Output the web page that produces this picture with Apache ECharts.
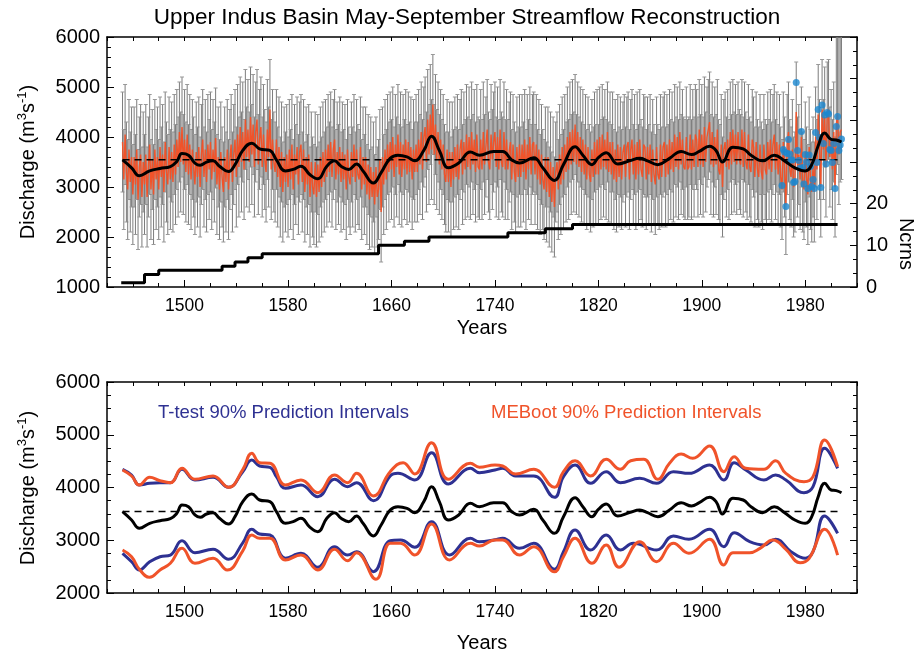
<!DOCTYPE html>
<html><head><meta charset="utf-8">
<script src="https://cdn.jsdelivr.net/npm/echarts@6/dist/echarts.min.js"></script>
<style>html,body{margin:0;padding:0;background:#fff}#c{width:917px;height:655px}</style>
</head><body><div id="c"></div>
<script>
// ---------------- DATA ----------------
const titleText = 'Upper Indus Basin May-September Streamflow Reconstruction';
const yearTickLabels = [1500, 1580, 1660, 1740, 1820, 1900, 1980];
const ncrnsTickLabels = [0, 10, 20];
const X_MIN = 1440, X_MAX = 2020;

// annual reconstruction, first year 1452
const firstYear = 1452;
const annualFlow = [
  3900,3150,4050,3300,2950,3750,3100,3600,
  2850,3600,3050,3750,2750,3400,3650,2800,3500,3050,
  3650,2800,3400,3850,2950,3550,2850,3750,3150,3600,
  2950,3800,3200,3650,2900,3900,3300,3050,3800,3150,
  3700,3100,3850,3250,3950,3400,4100,3500,4200,3450,
  3950,3300,4050,3250,3850,3150,3750,3400,3050,3700,
  3200,3800,3000,3650,3950,3200,3750,3100,3850,3350,
  3900,3150,3750,3300,3980,3050,3600,2950,3700,3200,
  2900,3600,3100,3750,2950,3550,3850,3100,3650,3950,
  3200,4050,3400,4200,3500,4100,3350,4350,3600,4150,
  3500,4400,3650,4250,3400,4100,4350,3450,3950,4200,
  3400,4050,3550,3300,4150,3600,4550,3350,3950,3500,
  3300,3950,3200,3800,3000,3700,2900,3600,3100,3650,
  3000,3750,3150,3850,2950,3650,3250,3800,3050,3700,
  3850,3100,3750,2900,3600,3050,3650,2800,3500,3000,
  2850,3500,2800,3450,2900,3600,3000,3700,3100,3750,
  3200,3850,3300,3900,3200,3750,3950,3150,3700,3250,
  3800,3100,3700,3150,3650,2950,3750,3200,3050,3700,
  3200,3850,3100,3750,3250,3150,3800,2950,3600,3050,
  3600,2850,3450,2750,3400,2800,3300,2650,3400,2800,
  2950,3550,2500,3600,3050,3750,3150,3850,3300,3900,
  3350,4000,3200,3850,3400,4050,3250,3900,3200,3850,
  3350,3950,3250,3900,3300,3800,3150,3750,3300,3850,
  3300,3950,3450,4100,3350,4000,4200,3500,4350,3650,
  4450,3750,4650,3650,4250,3550,4100,3450,3950,3350,
  3850,3250,3100,3750,3100,3700,3000,3700,3150,3800,
  3200,3850,3150,3750,3950,3250,3900,3350,4050,3400,
  4000,3350,4100,3450,3950,3300,4050,3400,3350,3950,
  3350,4100,3450,3800,4150,3500,3350,4050,3550,3900,
  4100,3400,4000,3350,4150,3500,3400,4100,3350,3950,
  3350,3700,3900,3150,3850,3300,3100,3800,3200,3850,
  3200,3850,3300,3950,3150,3850,3350,4000,3250,3850,
  3900,3250,3850,3150,3750,3050,3650,3150,2950,3600,
  2900,3600,2800,3500,2700,3400,2600,3300,3500,2950,
  3650,3050,3800,3150,3850,3300,4000,3350,4100,3450,
  4150,3500,4250,3450,4100,3400,4000,3300,3950,3250,
  3850,3150,3800,3250,3100,3750,3200,3900,3250,3950,
  3250,4000,3350,4050,3400,3950,3350,4100,3300,3900,
  3250,3900,3150,3750,3100,3850,3200,3800,3150,3700,
  3850,3200,3800,3900,3150,3750,3950,3250,3850,3150,
  3900,3250,3950,3350,3200,3850,3800,3150,3800,3250,
  3850,3100,3750,3250,3050,3800,3250,3150,3850,3200,
  3800,3900,3200,3850,3250,3950,3350,3900,3300,4050,
  3400,4000,3350,4100,3450,3950,3400,3350,4000,3350,
  3400,4050,3350,3950,3400,4050,3950,3400,4150,3450,
  4050,3400,4200,3500,4000,4150,4300,3450,4100,3400,
  4000,3450,4150,3350,3250,3850,3000,3750,3900,3400,
  3950,3350,4100,3450,4150,3500,4050,3450,4100,3550,
  3450,4150,3400,4100,3500,3350,4050,3400,3300,3950,
  3800,3200,3900,3350,3200,3850,3300,3150,3850,3350,
  3250,3900,3350,3950,3300,3850,4050,3350,3900,3250,
  3850,3200,2950,3900,3400,2650,3850,4100,3350,3200,
  3750,3000,3100,4500,3400,3650,3150,4000,3100,2950,
  3700,3200,2850,3800,3150,2900,3400,2900,4000,3350,
  4450,3750,3000,4550,3750,4400,3400,4500,4550,3600,
  3950,3350,4100,3000,4250,4450,3650,4100,4150
];
// prediction interval half-width of the annual error bars
const errHalfWidth = 1000;
// final years whose upper interval runs off the top of the axis
const openUpperYears = [2004, 2005, 2006, 2007, 2008];
const openUpperValue = 6800;

// observed (gauged) flow, 1962-2008
const observedFirstYear = 1962;
const observedFlow = [
  3030,3750,3700,2610,3670,3950,3660,3540,3540,3090,
  3110,5090,3730,3530,3380,4110,3390,3060,3650,3500,
  2970,3640,3410,3010,3150,2970,4090,3490,4550,3990,
  2990,4640,3870,4440,3460,4490,4460,3750,3730,3490,
  3870,2970,4210,4410,3730,3840,3960
];

// smoothed reconstruction
const smoothYears = [1452,1459,1465,1473,1481,1489,1494,1498,1503,1508,1512,1517,1522,1527,1534,1539,1545,1552,1558,1566,1571,1578,1584,1590,1597,1603,1610,1616,1621,1627,1633,1638,1646,1652,1659,1665,1672,1678,1685,1691,1697,1704,1712,1721,1728,1739,1746,1753,1759,1770,1777,1786,1793,1802,1808,1815,1820,1826,1835,1844,1852,1858,1866,1875,1884,1892,1898,1906,1911,1916,1924,1932,1938,1947,1956,1964,1972,1980,1985,1990,1995,2000,2004,2008];
const smoothFlow = [3541,3384,3226,3321,3371,3409,3510,3668,3636,3479,3435,3498,3523,3416,3308,3447,3731,3877,3763,3731,3541,3321,3352,3416,3245,3163,3416,3523,3416,3352,3460,3321,3081,3289,3573,3636,3604,3523,3731,4015,3731,3384,3479,3700,3636,3712,3712,3541,3479,3586,3384,3131,3447,3807,3636,3447,3586,3687,3460,3523,3573,3523,3447,3573,3712,3649,3712,3814,3731,3498,3795,3763,3636,3523,3636,3523,3384,3321,3447,3826,4080,3953,3940,3900];

const meanFlow = 3545;
const meanSpan = [1452, 2008];

// number of chronologies
const ncrnsYears = [1451,1469,1480,1529,1539,1549,1560,1650,1670,1689,1750,1779,1800,2005];
const ncrnsCount = [1,3,4,5,6,7,8,10,11,12,13,14,15,15];

// smoothed 90% prediction intervals
const ttestUpperYears = [1452,1459,1465,1473,1481,1489,1498,1508,1522,1534,1545,1552,1558,1566,1571,1578,1590,1603,1616,1626,1633,1646,1659,1665,1678,1691,1704,1721,1728,1740,1746,1756,1770,1786,1793,1802,1814,1826,1837,1852,1865,1878,1890,1906,1917,1925,1934,1948,1957,1965,1979,1986,1995,2005];
const ttestUpperFlow  = [4345,4237,4047,4079,4091,4091,4345,4142,4193,4003,4300,4521,4408,4383,4205,3985,4047,3826,4155,4015,4091,3750,4218,4268,4142,4660,4066,4364,4281,4332,4364,4218,4218,3814,4205,4427,4079,4300,4091,4174,4079,4300,4268,4427,4142,4471,4332,4142,4237,4142,3901,4015,4743,4364];
const mebootUpperYears = [1452,1459,1465,1473,1481,1489,1498,1508,1522,1534,1545,1552,1558,1566,1578,1590,1603,1616,1626,1633,1646,1659,1669,1678,1691,1704,1721,1728,1740,1746,1756,1770,1786,1793,1802,1814,1826,1837,1845,1855,1866,1875,1884,1893,1906,1917,1925,1934,1948,1957,1965,1979,1986,1995,2005];
const mebootUpperFlow  = [4332,4218,4047,4193,4129,4091,4364,4155,4218,4003,4340,4648,4471,4459,4047,4142,3901,4237,4091,4268,3839,4300,4471,4256,4850,4155,4459,4383,4427,4408,4256,4345,4003,4300,4508,4218,4534,4345,4508,4534,4155,4459,4635,4553,4787,4300,4584,4364,4345,4508,4268,4110,4205,4900,4395];
const ttestLowerYears = [1452,1459,1465,1473,1481,1489,1498,1508,1522,1534,1545,1552,1558,1566,1578,1590,1603,1616,1626,1633,1646,1659,1667,1678,1691,1705,1721,1728,1740,1746,1759,1770,1786,1793,1802,1814,1826,1837,1847,1865,1878,1890,1906,1917,1925,1937,1948,1957,1969,1980,1986,1995,2005];
const ttestLowerFlow  = [2752,2592,2436,2592,2688,2720,2991,2764,2828,2639,2950,3207,3119,3100,2658,2752,2487,2878,2720,2783,2404,2991,3005,2866,3352,2720,3037,2973,3010,3037,2847,2942,2449,2783,3194,2815,3100,2815,2942,2815,3081,3018,3207,2878,3144,2973,2910,3018,2783,2658,2783,3460,3131];
const mebootLowerYears = [1452,1459,1465,1473,1481,1489,1498,1508,1522,1533,1545,1552,1558,1566,1578,1590,1603,1616,1626,1633,1648,1659,1667,1678,1691,1705,1721,1728,1740,1746,1759,1770,1786,1793,1802,1815,1826,1836,1852,1865,1878,1890,1906,1917,1924,1937,1945,1955,1965,1976,1983,1995,2005];
const mebootLowerFlow  = [2815,2688,2449,2297,2436,2563,2847,2563,2658,2436,2800,3100,3037,3037,2626,2720,2436,2828,2612,2764,2260,2942,2942,2720,3308,2626,2942,2891,3005,3005,2720,2878,2404,2688,3037,2563,2910,2487,2973,2594,2942,2752,3018,2531,2764,2764,2847,3005,2828,2574,2658,3207,2720];

const legendTtest = 'T-test 90% Prediction Intervals';
const legendMeboot = 'MEBoot 90% Prediction Intervals';

// ---------------- BUILD ----------------
const FONT = '"Liberation Sans", Arial, Helvetica, sans-serif';
const BLACK = '#000';
const ORANGE = '#f0532a';
const BLUE = '#2e3192';
const DOT = '#1a87cf';
const GRAY = '#7c7c7c';

const pairs = (xs, ys) => xs.map((x, i) => [x, ys[i]]);
const annualData = annualFlow.map((v, i) => [firstYear + i, v]);
const errData = annualFlow.map((v, i) => {
  const yr = firstYear + i;
  const hi = openUpperYears.includes(yr) ? openUpperValue : v + errHalfWidth;
  return [yr, v - errHalfWidth, hi];
});
const obsData = observedFlow.map((v, i) => [observedFirstYear + i, v]);
const smoothData = pairs(smoothYears, smoothFlow);
const meanData = meanSpan.map(y => [y, meanFlow]);

function renderErr(params, api) {
  const x = api.value(0), lo = api.value(1), hi = api.value(2);
  const top = Math.min(hi, 6000);
  const a = api.coord([x, lo]), b = api.coord([x, top]);
  const st = {stroke: GRAY, lineWidth: 1};
  const ch = [
    {type: 'line', shape: {x1: a[0], y1: a[1], x2: b[0], y2: b[1]}, style: st},
    {type: 'line', shape: {x1: a[0] - 2, y1: a[1], x2: a[0] + 2, y2: a[1]}, style: {stroke: '#999', lineWidth: 1}}
  ];
  if (hi <= 6000) ch.push({type: 'line', shape: {x1: b[0] - 2, y1: b[1], x2: b[0] + 2, y2: b[1]}, style: {stroke: '#999', lineWidth: 1}});
  return {type: 'group', children: ch};
}

const plainNum = v => String(v);
const axisLineStyle = {color: BLACK, width: 1.5};
function xAxesFor(gi) {
  const base = {gridIndex: gi, type: 'value', min: X_MIN, max: X_MAX, splitLine: {show: false}};
  return [
    Object.assign({}, base, {position: 'bottom', offset: 0,
      axisLine: {show: true, onZero: false, lineStyle: axisLineStyle},
      axisTick: {show: true, inside: true, length: 7, customValues: yearTickLabels, lineStyle: {color: BLACK, width: 1}},
      axisLabel: {show: true, customValues: yearTickLabels, formatter: plainNum, fontSize: 17.5, color: BLACK, fontFamily: FONT, margin: 10}}),
    Object.assign({}, base, {position: 'bottom', offset: 0, interval: 20,
      axisLine: {show: false, onZero: false},
      axisTick: {show: true, inside: true, length: 4, lineStyle: {color: BLACK, width: 1}},
      axisLabel: {show: false}}),
    Object.assign({}, base, {position: 'top', offset: 0, interval: 20,
      axisLine: {show: true, onZero: false, lineStyle: axisLineStyle},
      axisTick: {show: true, inside: true, length: 4, lineStyle: {color: BLACK, width: 1}},
      axisLabel: {show: false}})
  ];
}
function yAxis(gi, pos, min, max, interval, minorSplit, labels) {
  return {gridIndex: gi, type: 'value', position: pos, min, max, interval, offset: 0,
    splitLine: {show: false}, minorSplitLine: {show: false},
    axisLine: {show: true, onZero: false, lineStyle: axisLineStyle},
    axisTick: {show: true, inside: true, length: 7, lineStyle: {color: BLACK, width: 1}},
    minorTick: {show: true, splitNumber: minorSplit, length: 4, lineStyle: {color: BLACK, width: 1}},
    axisLabel: labels === false ? {show: false} : Object.assign({show: true, formatter: plainNum, fontSize: 20, color: BLACK, fontFamily: FONT, margin: pos === 'left' ? 7 : 9}, labels ? {customValues: labels} : {})
  };
}

const lineBase = {type: 'line', showSymbol: false, symbol: 'none', silent: true, animation: false};
const SMOOTH = 0.45;

const option = {
  animation: false,
  backgroundColor: '#fff',
  grid: [
    {left: 107, top: 37, width: 750, height: 250},
    {left: 107, top: 382, width: 750, height: 211}
  ],
  xAxis: xAxesFor(0).concat(xAxesFor(1)),
  yAxis: [
    yAxis(0, 'left', 1000, 6000, 1000, 5, null),
    yAxis(0, 'right', 0, 60, 10, 3, ncrnsTickLabels),
    yAxis(1, 'left', 2000, 6000, 1000, 4, null),
    yAxis(1, 'right', 2000, 6000, 1000, 4, false)
  ],
  series: [
    {type: 'custom', xAxisIndex: 0, yAxisIndex: 0, data: errData, renderItem: renderErr,
      encode: {x: 0, y: [1, 2]}, silent: true, z: 1, clip: true},
    Object.assign({}, lineBase, {xAxisIndex: 0, yAxisIndex: 0, data: annualData, z: 2,
      lineStyle: {color: ORANGE, width: 1.4}}),
    Object.assign({}, lineBase, {xAxisIndex: 0, yAxisIndex: 0, data: meanData, z: 3,
      lineStyle: {color: BLACK, width: 1.5, type: [7, 5]}}),
    {type: 'scatter', xAxisIndex: 0, yAxisIndex: 0, data: obsData, symbol: 'circle', symbolSize: 7,
      itemStyle: {color: DOT}, silent: true, z: 4},
    Object.assign({}, lineBase, {xAxisIndex: 0, yAxisIndex: 0, data: smoothData, z: 5, smooth: SMOOTH,
      lineStyle: {color: BLACK, width: 3}}),
    Object.assign({}, lineBase, {xAxisIndex: 0, yAxisIndex: 1, data: pairs(ncrnsYears, ncrnsCount), z: 5, step: 'end',
      lineStyle: {color: BLACK, width: 3}}),

    Object.assign({}, lineBase, {xAxisIndex: 3, yAxisIndex: 2, data: pairs(ttestUpperYears, ttestUpperFlow), z: 3, smooth: SMOOTH,
      lineStyle: {color: BLUE, width: 3}}),
    Object.assign({}, lineBase, {xAxisIndex: 3, yAxisIndex: 2, data: pairs(ttestLowerYears, ttestLowerFlow), z: 3, smooth: SMOOTH,
      lineStyle: {color: BLUE, width: 3}}),
    Object.assign({}, lineBase, {xAxisIndex: 3, yAxisIndex: 2, data: pairs(mebootUpperYears, mebootUpperFlow), z: 4, smooth: SMOOTH,
      lineStyle: {color: ORANGE, width: 3}}),
    Object.assign({}, lineBase, {xAxisIndex: 3, yAxisIndex: 2, data: pairs(mebootLowerYears, mebootLowerFlow), z: 4, smooth: SMOOTH,
      lineStyle: {color: ORANGE, width: 3}}),
    Object.assign({}, lineBase, {xAxisIndex: 3, yAxisIndex: 2, data: meanData, z: 5,
      lineStyle: {color: BLACK, width: 1.5, type: [7, 5]}}),
    Object.assign({}, lineBase, {xAxisIndex: 3, yAxisIndex: 2, data: smoothData, z: 6, smooth: SMOOTH,
      lineStyle: {color: BLACK, width: 3}})
  ],
  graphic: [
    {type: 'text', x: 467, y: 18, silent: true,
      style: {text: titleText, fill: BLACK, font: '22.5px ' + FONT, align: 'center', verticalAlign: 'middle'}},
    {type: 'text', x: 482, y: 328, silent: true,
      style: {text: 'Years', fill: BLACK, font: '20px ' + FONT, align: 'center', verticalAlign: 'middle'}},
    {type: 'text', x: 482, y: 643, silent: true,
      style: {text: 'Years', fill: BLACK, font: '20px ' + FONT, align: 'center', verticalAlign: 'middle'}},
    {type: 'text', x: 28, y: 162, rotation: Math.PI / 2, silent: true,
      style: {text: 'Discharge (m{sup|3}s{sup|-1})', fill: BLACK, fontSize: 20, fontFamily: FONT, lineHeight: 24,
        align: 'center', verticalAlign: 'middle', rich: {sup: {fontSize: 13, fontFamily: FONT, fill: BLACK, verticalAlign: 'top', lineHeight: 24}}}},
    {type: 'text', x: 28, y: 488, rotation: Math.PI / 2, silent: true,
      style: {text: 'Discharge (m{sup|3}s{sup|-1})', fill: BLACK, fontSize: 20, fontFamily: FONT, lineHeight: 24,
        align: 'center', verticalAlign: 'middle', rich: {sup: {fontSize: 13, fontFamily: FONT, fill: BLACK, verticalAlign: 'top', lineHeight: 24}}}},
    {type: 'text', x: 906, y: 244, rotation: -Math.PI / 2, silent: true,
      style: {text: 'Ncrns', fill: BLACK, font: '20px ' + FONT, align: 'center', verticalAlign: 'middle'}},
    {type: 'text', x: 158, y: 413, silent: true,
      style: {text: legendTtest, fill: BLUE, font: '18.5px ' + FONT, align: 'left', verticalAlign: 'middle'}},
    {type: 'text', x: 491, y: 413, silent: true,
      style: {text: legendMeboot, fill: ORANGE, font: '18.5px ' + FONT, align: 'left', verticalAlign: 'middle'}}
  ]
};

const chart = echarts.init(document.getElementById('c'));
chart.setOption(option);
</script>
</body></html>
